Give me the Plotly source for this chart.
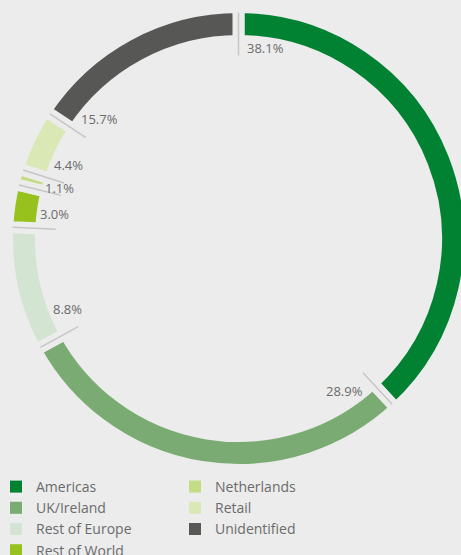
import math
import plotly.graph_objects as go

# Share of total by region, clockwise from 12 o'clock
regions = ["Americas", "UK/Ireland", "Rest of Europe", "Rest of World",
           "Netherlands", "Retail", "Unidentified"]
shares = [38.1, 28.9, 8.8, 3.0, 1.1, 4.4, 15.7]
colors = ["#008232", "#7aab72", "#d3e5d2", "#97c21e", "#c4dc84", "#d9e8b4", "#575756"]

# Legend columns
legend_col1 = ["Americas", "UK/Ireland", "Rest of Europe", "Rest of World"]
legend_col2 = ["Netherlands", "Retail", "Unidentified"]

BG = "#ececec"
TXT = "#6b6b6b"
LEAD = "#c6c6c6"
FONT = "Open Sans"
FS = 13

W, H = 472, 555
CX, CY = 238.5, 238.5          # ring centre in px
R_OUT_VIS, R_IN_VIS = 225.5, 203.5
GAP = 12                       # slice separation (background stroke)
R_PIE = R_OUT_VIS + GAP / 2
R_HOLE = R_IN_VIS - GAP / 2

def px(x):
    return x / W

def py(y):
    return 1 - y / H

fig = go.Figure()

fig.add_trace(go.Pie(
    labels=regions,
    values=shares,
    sort=False,
    direction="clockwise",
    rotation=0,
    hole=R_HOLE / R_PIE,
    textinfo="none",
    showlegend=False,
    marker=dict(colors=colors, line=dict(color=BG, width=GAP)),
    domain=dict(x=[px(CX - R_PIE), px(CX + R_PIE)],
                y=[py(CY + R_PIE), py(CY - R_PIE)]),
))

# Leader lines at every slice boundary and percentage labels
total = sum(shares)
shapes = []
annotations = []
cum = 0.0
for name, v in zip(regions, shares):
    th = 2 * math.pi * cum / total
    s, c = math.sin(th), math.cos(th)
    r0, r1 = R_OUT_VIS + 0.5, 183
    shapes.append(dict(
        type="line", xref="paper", yref="paper", layer="above",
        x0=px(CX + r0 * s), y0=py(CY - r0 * c),
        x1=px(CX + r1 * s), y1=py(CY - r1 * c),
        line=dict(color=LEAD, width=1.5),
    ))
    label = f"{v:.1f}%"
    hw = 0.28 * FS * len(label) + 0.3
    hh = 0.5 * FS
    # offset clockwise along the tangent, clamped to half the slice
    half = math.pi * v / total
    tx, ty = c, s
    d = 8 + abs(tx) * hw + abs(ty) * hh
    tha = th + min(d / 185, half)
    sa, ca = math.sin(tha), math.cos(tha)
    rr = R_IN_VIS - 2 - (abs(sa) * hw + abs(ca) * hh)
    annotations.append(dict(
        x=px(CX + rr * sa), y=py(CY - rr * ca), xref="paper", yref="paper",
        text=label, showarrow=False, xanchor="center", yanchor="middle",
        font=dict(family=FONT, size=FS, color=TXT),
    ))
    cum += v

# Legend entries, two columns
col_of = {n: ("legend" if n in legend_col1 else "legend2") for n in regions}
for name in legend_col1 + legend_col2:
    fig.add_trace(go.Scatter(
        x=[None], y=[None], mode="markers", name=name,
        marker=dict(symbol="square", size=12, color=colors[regions.index(name)]),
        legend=col_of[name], hoverinfo="skip",
    ))

legend_style = dict(
    font=dict(family=FONT, size=FS + 1, color=TXT),
    bgcolor="rgba(0,0,0,0)", borderwidth=0,
    orientation="v", xanchor="left", yanchor="top",
    itemclick=False, itemdoubleclick=False,
)

fig.update_layout(
    width=W, height=H, autosize=False,
    margin=dict(l=0, r=0, t=0, b=0, autoexpand=False),
    paper_bgcolor=BG, plot_bgcolor=BG,
    xaxis=dict(visible=False), yaxis=dict(visible=False),
    shapes=shapes, annotations=annotations,
    legend=dict(x=px(-4), y=py(471), **legend_style),
    legend2=dict(x=px(175), y=py(471), **legend_style),
)

fig.write_html(
    "out.html",
    post_script="document.documentElement.style.overflow='hidden';"
                "document.body.style.overflow='hidden';",
)
